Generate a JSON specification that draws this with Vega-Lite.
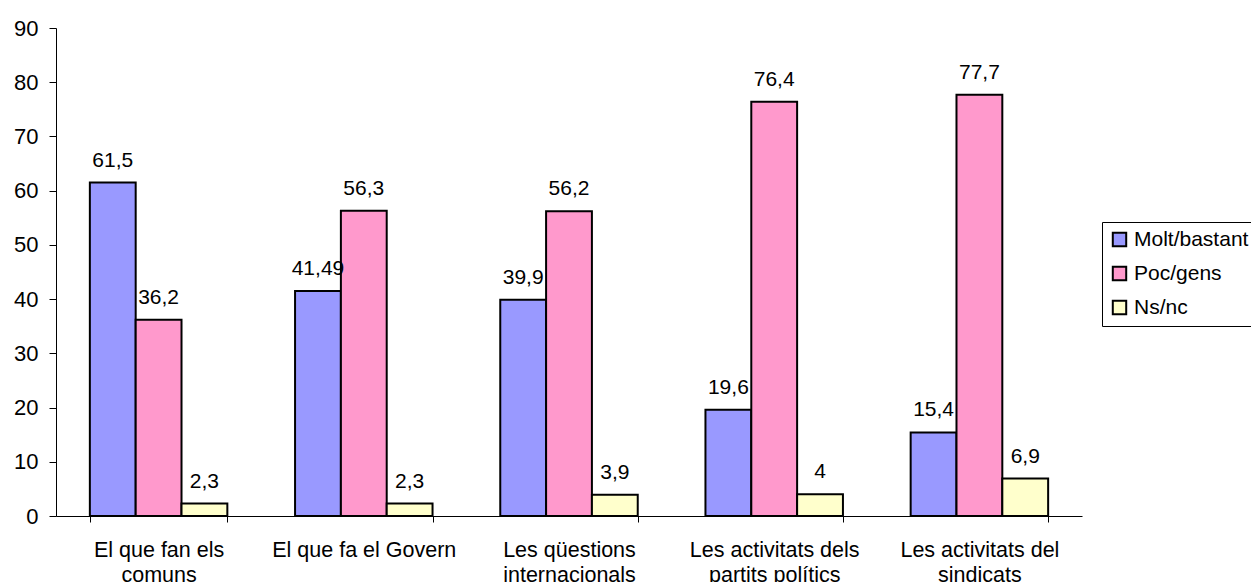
{
  "$schema": "https://vega.github.io/schema/vega-lite/v6.json",
  "width": 1026,
  "height": 488,
  "autosize": {"type": "none"},
  "padding": {"left": 56, "top": 28, "right": 169, "bottom": 66},
  "background": "white",
  "config": {
    "view": {"stroke": null},
    "font": "Liberation Sans",
    "locale": {"number": {"decimal": ",", "thousands": ".", "grouping": [3], "currency": ["", " €"]}}
  },
  "data": {
    "values": [
      {"category": "El que fan els comuns", "series": "Molt/bastant", "value": 61.5},
      {"category": "El que fan els comuns", "series": "Poc/gens", "value": 36.2},
      {"category": "El que fan els comuns", "series": "Ns/nc", "value": 2.3},
      {"category": "El que fa el Govern", "series": "Molt/bastant", "value": 41.49},
      {"category": "El que fa el Govern", "series": "Poc/gens", "value": 56.3},
      {"category": "El que fa el Govern", "series": "Ns/nc", "value": 2.3},
      {"category": "Les qüestions internacionals", "series": "Molt/bastant", "value": 39.9},
      {"category": "Les qüestions internacionals", "series": "Poc/gens", "value": 56.2},
      {"category": "Les qüestions internacionals", "series": "Ns/nc", "value": 3.9},
      {"category": "Les activitats dels partits polítics", "series": "Molt/bastant", "value": 19.6},
      {"category": "Les activitats dels partits polítics", "series": "Poc/gens", "value": 76.4},
      {"category": "Les activitats dels partits polítics", "series": "Ns/nc", "value": 4},
      {"category": "Les activitats del sindicats", "series": "Molt/bastant", "value": 15.4},
      {"category": "Les activitats del sindicats", "series": "Poc/gens", "value": 77.7},
      {"category": "Les activitats del sindicats", "series": "Ns/nc", "value": 6.9}
    ]
  },
  "encoding": {
    "x": {
      "field": "category",
      "type": "nominal",
      "sort": null,
      "scale": {"paddingInner": 0.33, "paddingOuter": 0.165},
      "axis": {
        "title": null,
        "grid": false,
        "domainColor": "black",
        "tickColor": "black",
        "labelColor": "black",
        "labelFont": "Liberation Sans",
        "labelFontSize": 21.5,
        "labelAngle": 0,
        "tickBand": "extent",
        "tickSize": 6,
        "labelPadding": 17,
        "labelLineHeight": 25,
        "labelBaseline": "top",
        "labelLimit": 300,
        "labelExpr": "datum.value == 'El que fan els comuns' ? ['El que fan els', 'comuns'] : datum.value == 'Les qüestions internacionals' ? ['Les qüestions', 'internacionals'] : datum.value == 'Les activitats dels partits polítics' ? ['Les activitats dels', 'partits polítics'] : datum.value == 'Les activitats del sindicats' ? ['Les activitats del', 'sindicats'] : datum.value"
      }
    },
    "xOffset": {
      "field": "series",
      "type": "nominal",
      "sort": ["Molt/bastant", "Poc/gens", "Ns/nc"],
      "scale": {"paddingInner": 0, "paddingOuter": 0}
    },
    "y": {
      "field": "value",
      "type": "quantitative",
      "scale": {"domain": [0, 90], "nice": false},
      "axis": {
        "title": null,
        "grid": false,
        "domainColor": "black",
        "tickColor": "black",
        "labelColor": "black",
        "labelFont": "Liberation Sans",
        "labelFontSize": 22,
        "values": [0, 10, 20, 30, 40, 50, 60, 70, 80, 90],
        "tickSize": 7,
        "labelPadding": 11,
        "format": "d"
      }
    }
  },
  "layer": [
    {
      "mark": {"type": "bar", "stroke": "black", "strokeWidth": 2},
      "encoding": {
        "color": {
          "field": "series",
          "type": "nominal",
          "sort": ["Molt/bastant", "Poc/gens", "Ns/nc"],
          "scale": {"domain": ["Molt/bastant", "Poc/gens", "Ns/nc"], "range": ["#9999FF", "#FF99CC", "#FFFFCC"]},
          "legend": {
            "title": null,
            "orient": "none",
            "legendX": 1046,
            "legendY": 194,
            "symbolType": "square",
            "symbolSize": 180,
            "symbolStrokeColor": "black",
            "symbolStrokeWidth": 2,
            "symbolOpacity": 1,
            "labelFontSize": 21,
            "labelFont": "Liberation Sans",
            "labelColor": "black",
            "labelOffset": 4,
            "rowPadding": 11,
            "padding": 7,
            "strokeColor": "black",
            "fillColor": "white",
            "cornerRadius": 0
          }
        }
      }
    },
    {
      "mark": {"type": "text", "baseline": "alphabetic", "align": "center", "dy": -16, "fontSize": 21, "font": "Liberation Sans", "color": "black"},
      "encoding": {
        "text": {"field": "value", "type": "quantitative", "format": "~g"}
      }
    }
  ]
}
